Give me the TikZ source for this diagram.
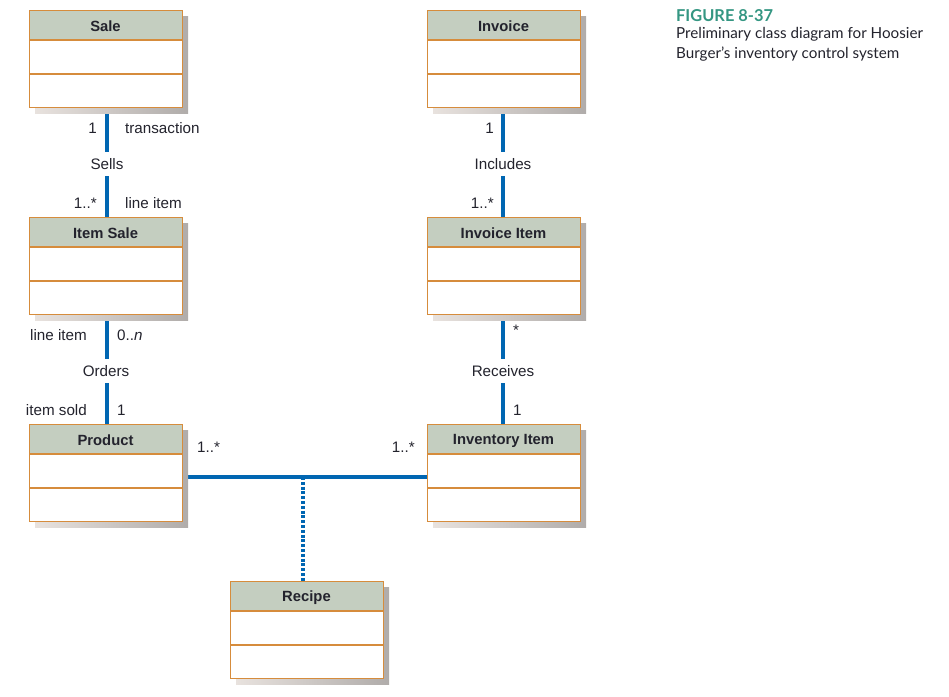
\documentclass[tikz,border=0pt]{standalone}
\usepackage{fontspec}
\setmainfont{Liberation Sans}
\newfontfamily\capfont{Lato}
\usetikzlibrary{calc}
\definecolor{hdr}{RGB}{196,206,192}
\definecolor{bord}{RGB}{214,140,60}
\definecolor{assocblue}{RGB}{0,102,178}
\definecolor{teal}{RGB}{52,150,130}
\definecolor{shL}{RGB}{232,226,222}
\definecolor{shR}{RGB}{176,172,170}
\definecolor{txt}{RGB}{35,35,45}
\pgfdeclarelayer{bg}
\pgfsetlayers{bg,main}
\tikzset{
  boxst/.style={draw=bord, line width=1.4pt, minimum width=153pt, minimum height=97pt, inner sep=0pt, anchor=north west},
  assoc/.style={draw=assocblue, line width=4pt},
  dotline/.style={draw=assocblue, line width=4pt, dash pattern=on 3pt off 1.8pt},
  lbl/.style={font=\fontsize{15.2}{18}\selectfont, text=txt, inner sep=1pt},
  mid/.style={lbl, fill=white, inner xsep=2pt, inner ysep=6pt},
  ttl/.style={font=\fontsize{14.8}{17}\selectfont\bfseries, text=txt},
}
\newcommand\umlclass[4]{%
  \shade[left color=shL, right color=shR] (#2+6,#3+6) rectangle (#2+159,#3+103);
  \fill[white] (#2,#3) rectangle (#2+153,#3+97);
  \fill[hdr] (#2,#3) rectangle (#2+153,#3+30);
  \draw[bord, line width=1.4pt] (#2,#3+30) -- (#2+153,#3+30) (#2,#3+64) -- (#2+153,#3+64);
  \node[boxst] (#1) at (#2,#3) {};
  \node[ttl] (#1-t) at (#2+76.5,#3+16.5) {#4};
}
\begin{document}
\begin{tikzpicture}[x=1pt,y=-1pt]
\useasboundingbox (0,0) rectangle (949,696);
\umlclass{sale}{29}{10}{Sale}
\umlclass{invoice}{427}{10}{Invoice}
\umlclass{itemsale}{29}{217}{Item Sale}
\umlclass{invitem}{427}{217}{Invoice Item}
\umlclass{product}{29}{424}{Product}
\umlclass{inventory}{427}{424}{Inventory Item}
\umlclass{recipe}{230}{581}{Recipe}

\node[mid] (sells) at (107,164) {Sells};
\node[mid] (orders) at (106,371) {Orders};
\node[mid] (includes) at (503,164) {Includes};
\node[mid] (receives) at (503,371) {Receives};
\coordinate (jl) at (182,477);
\coordinate (jr) at (427,477);
\coordinate (jm) at (303,477);

\begin{pgfonlayer}{bg}
\draw[assoc] (sale.south -| sells) -- (sells.north);
\draw[assoc] (sells.south) -- (itemsale.north -| sells);
\draw[assoc] (itemsale.south -| sells) -- (orders.north -| sells);
\draw[assoc] (orders.south -| sells) -- (product.north -| sells);
\draw[assoc] (invoice.south -| includes) -- (includes.north);
\draw[assoc] (includes.south) -- (invitem.north -| includes);
\draw[assoc] (invitem.south -| includes) -- (receives.north);
\draw[assoc] (receives.south) -- (inventory.north -| receives);
\draw[assoc] (jl) -- (jr);
\draw[dotline] (jm) -- (recipe.north -| jm);
\end{pgfonlayer}

\node[lbl, anchor=east] (m1) at (98,128) {1};
\node[lbl, anchor=west] (r1) at (124,128) {transaction};
\node[lbl, anchor=east] (m2) at (98,203) {1..*};
\node[lbl, anchor=west] (r2) at (124,203) {line item};
\node[lbl, anchor=east] (m3) at (88,335) {line item};
\node[lbl, anchor=west] (r3) at (116,335) {0..\textit{n}};
\node[lbl, anchor=east] (m4) at (88,410) {item sold};
\node[lbl, anchor=west] (r4) at (116,410) {1};
\node[lbl, anchor=east] (m5) at (495,128) {1};
\node[lbl, anchor=east] (m6) at (495,203) {1..*};
\node[lbl, anchor=west] (r5) at (512,330) {*};
\node[lbl, anchor=west] (r6) at (512,410) {1};
\node[lbl, anchor=west] (p1) at (196,447) {1..*};
\node[lbl, anchor=east] (p2) at (416,447) {1..*};

\node[anchor=west, inner sep=0pt, text=teal, font=\capfont\fontsize{16.4}{18}\selectfont\bfseries] (fig) at (676,16) {FIGURE 8-37};
\node[anchor=north west, inner sep=0pt, align=left, text=txt, font=\capfont\fontsize{15.2}{19.5}\selectfont] (cap) at (676,27.5) {Preliminary class diagram for Hoosier\\Burger’s inventory control system};
\end{tikzpicture}
\end{document}
